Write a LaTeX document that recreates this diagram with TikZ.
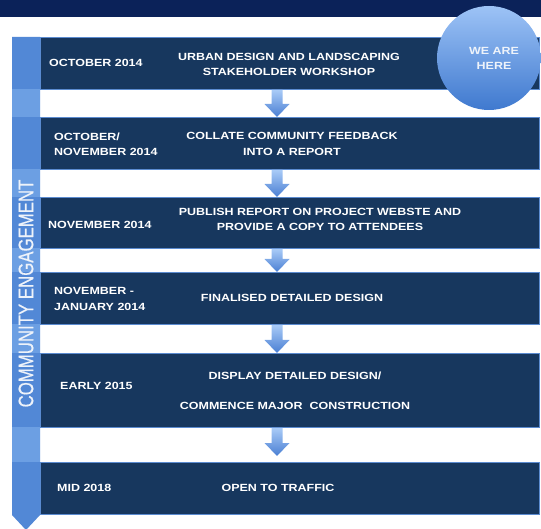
\documentclass[tikz,border=0pt]{standalone}
\usepackage{fontspec}
\setmainfont{Liberation Sans}
\newfontfamily\labfont[FakeStretch=1.2]{Liberation Sans Bold}
\newfontfamily\sidefont[FakeBold=0.6]{Liberation Sans}
\usetikzlibrary{calc}

\definecolor{bandnavy}{HTML}{0B2259}
\definecolor{boxnavy}{HTML}{17375E}
\definecolor{boxedge}{HTML}{5B8BD0}
\definecolor{barblue}{HTML}{5288D6}
\definecolor{barlight}{HTML}{6C9FE3}
\definecolor{arrowtop}{HTML}{A9CBF7}
\definecolor{arrowbot}{HTML}{4A7FD3}
\definecolor{bubbletop}{HTML}{9DC3F6}
\definecolor{bubblebot}{HTML}{3F79CF}
\definecolor{bubbletext}{HTML}{EEF3FA}

\tikzset{
  stagebox/.style={rectangle, fill=boxnavy, draw=boxedge, line width=0.9pt,
    minimum width=499pt, inner sep=0pt, anchor=north west},
  datetext/.style={anchor=west, text=white, align=left, inner sep=0pt,
    font=\labfont\fontsize{10.4}{15.5}\selectfont},
  tasktext/.style={anchor=center, text=white, align=center, inner sep=0pt,
    font=\labfont\fontsize{10.4}{15.5}\selectfont},
  flowarrow/.style={top color=arrowtop, bottom color=arrowbot, draw=none},
}

% block arrow pointing down from #2 to #3 (both points), head 13pt tall
\newcommand\stagearrow[3][0pt]{%
  \path let \p1=(#2), \p2=(#3) in
    [flowarrow] (\x1-5.5pt,\y1) -- (\x1+5.5pt,\y1) -- (\x1+5.5pt,\y2+13pt+#1)
    -- (\x1+12.5pt,\y2+13pt+#1) -- (\x1,\y2+#1) -- (\x1-12.5pt,\y2+13pt+#1)
    -- (\x1-5.5pt,\y2+13pt+#1) -- cycle;}

\begin{document}
\begin{tikzpicture}[x=1pt,y=-1pt]
\useasboundingbox (0,0) rectangle (541,529);

% heading band
\fill[bandnavy] (0,0) rectangle (541,17);

% stage boxes
\node[stagebox, minimum height=52pt] (r1) at (40,37) {};
\node[stagebox, minimum height=52pt] (r2) at (40,117) {};
\node[stagebox, minimum height=51pt] (r3) at (40,197) {};
\node[stagebox, minimum height=52pt] (r4) at (40,272) {};
\node[stagebox, minimum height=74pt] (r5) at (40,353) {};
\node[stagebox, minimum height=52pt] (r6) at (40,462) {};

% side bar with arrow end
\fill[barblue] (12,37) -- (40,37) -- (40,515) -- (26,530) -- (12,515) -- cycle;
\foreach \a/\b in {89/117, 169/197, 248/272, 324/353, 427/462}
  \fill[barlight] (12,\a) rectangle (40,\b);
\node[rotate=90, text=bubbletext, inner sep=0pt, font=\sidefont\fontsize{16.8}{16.8}\selectfont]
  (side) at (26,293.5) {\scalebox{1}[1.25]{COMMUNITY ENGAGEMENT}};

% dates
\node[datetext] (d1) at (49,63) {OCTOBER 2014};
\node[datetext] (d2) at (54,144.5) {OCTOBER/\\NOVEMBER 2014};
\node[datetext] (d3) at (48,225) {NOVEMBER 2014};
\node[datetext] (d4) at (54,299) {NOVEMBER -\\JANUARY 2014};
\node[datetext] (d5) at (60,386) {EARLY 2015};
\node[datetext] (d6) at (57,488) {MID 2018};

% tasks
\node[tasktext] (t1) at (289,64.5) {URBAN DESIGN AND LANDSCAPING\\STAKEHOLDER WORKSHOP};
\node[tasktext] (t2) at (292,144) {COLLATE COMMUNITY FEEDBACK\\INTO A REPORT};
\node[tasktext] (t3) at (320,219.5) {PUBLISH REPORT ON PROJECT WEBSTE AND\\PROVIDE A COPY TO ATTENDEES};
\node[tasktext] (t4) at (292,298) {FINALISED DETAILED DESIGN};
\node[tasktext] (t5) at (295,391) {DISPLAY DETAILED DESIGN/\\[14.5pt]COMMENCE MAJOR\ \ CONSTRUCTION};
\node[tasktext] (t6) at (278,488) {OPEN TO TRAFFIC};

% flow arrows between stages
\coordinate (ax) at (277,0);
\stagearrow{ax |- r1.south}{ax |- r2.north}
\stagearrow{ax |- r2.south}{ax |- r3.north}
\stagearrow{ax |- r3.south}{ax |- r4.north}
\stagearrow{ax |- r4.south}{ax |- r5.north}
\stagearrow[6pt]{ax |- r5.south}{ax |- r6.north}

% current position marker
\node[circle, minimum size=104pt, inner sep=0pt, top color=bubbletop, bottom color=bubblebot]
  (here) at (489,58) {};
\node[text=bubbletext, align=center, inner sep=0pt,
  font=\labfont\fontsize{10.4}{15.5}\selectfont] (heretext) at (494,58.5) {WE ARE\\HERE};
\end{tikzpicture}
\end{document}
